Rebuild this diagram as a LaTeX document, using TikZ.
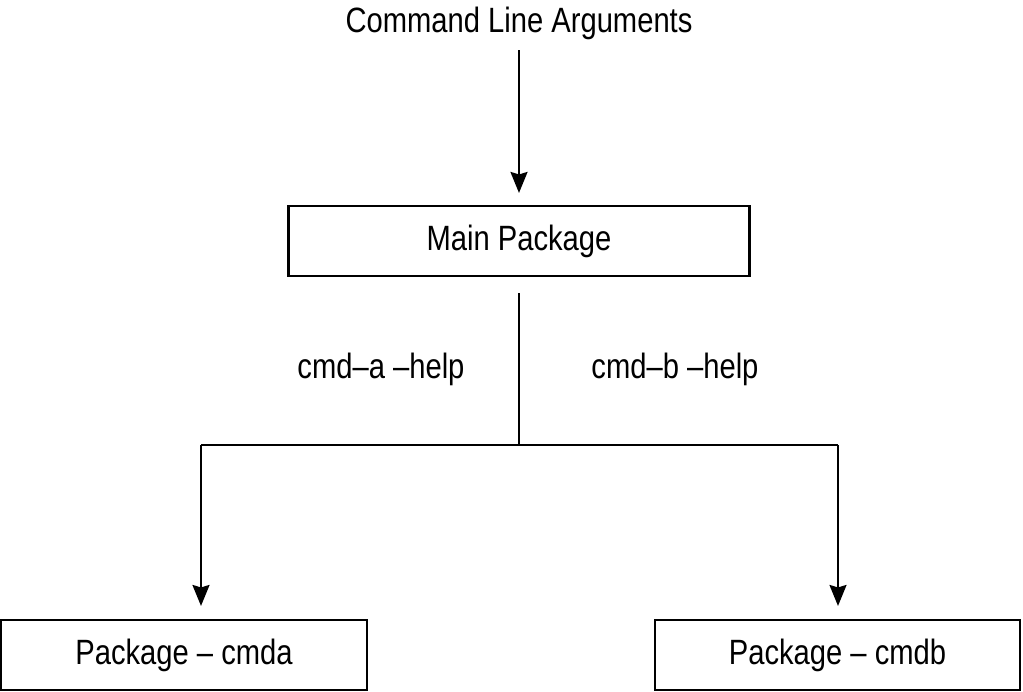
\documentclass[tikz,border=0pt]{standalone}
\usepackage{fontspec}
\setmainfont[FakeStretch=0.83]{Liberation Sans}
\usetikzlibrary{positioning,arrows.meta}
\begin{document}
\begin{tikzpicture}[
box/.style={draw, line width=1.2pt, minimum height=1.4cm, inner sep=0pt},
plain/.style={draw=none, fill=none, inner sep=0pt},
line width=1.2pt, >={Stealth[length=0.42cm,width=0.34cm,inset=0.05cm]},
every node/.style={font=\fontsize{20}{24}\selectfont}
]
\useasboundingbox (0,0) rectangle (20.46,-13.82);
\node[plain, anchor=base] (args) at (10.38,-0.64) {Command Line Arguments};
\node[box, minimum width=9.22cm] (main) at (10.38,-4.82) {Main Package};
\node[box, minimum width=7.32cm] (pkga) at (3.68,-13.1) {Package – cmda};
\node[box, minimum width=7.3cm] (pkgb) at (16.75,-13.1) {Package – cmdb};
\coordinate (split) at (10.38,-8.9);
\coordinate (splita) at (4.02,-8.9);
\coordinate (splitb) at (16.76,-8.9);
\node[plain] (helpa) at (7.62,-7.38) {cmd–a –help};
\node[plain] (helpb) at (13.5,-7.38) {cmd–b –help};
\draw[->, shorten <=0.2cm, shorten >=0.24cm] (args) -- (main);
\draw[shorten <=0.32cm] (main) -- (split);
\draw (splita) -- (splitb);
\draw[->, shorten >=0.26cm] (splita) -- (pkga.north -| splita);
\draw[->, shorten >=0.26cm] (splitb) -- (pkgb.north -| splitb);
\end{tikzpicture}
\end{document}
